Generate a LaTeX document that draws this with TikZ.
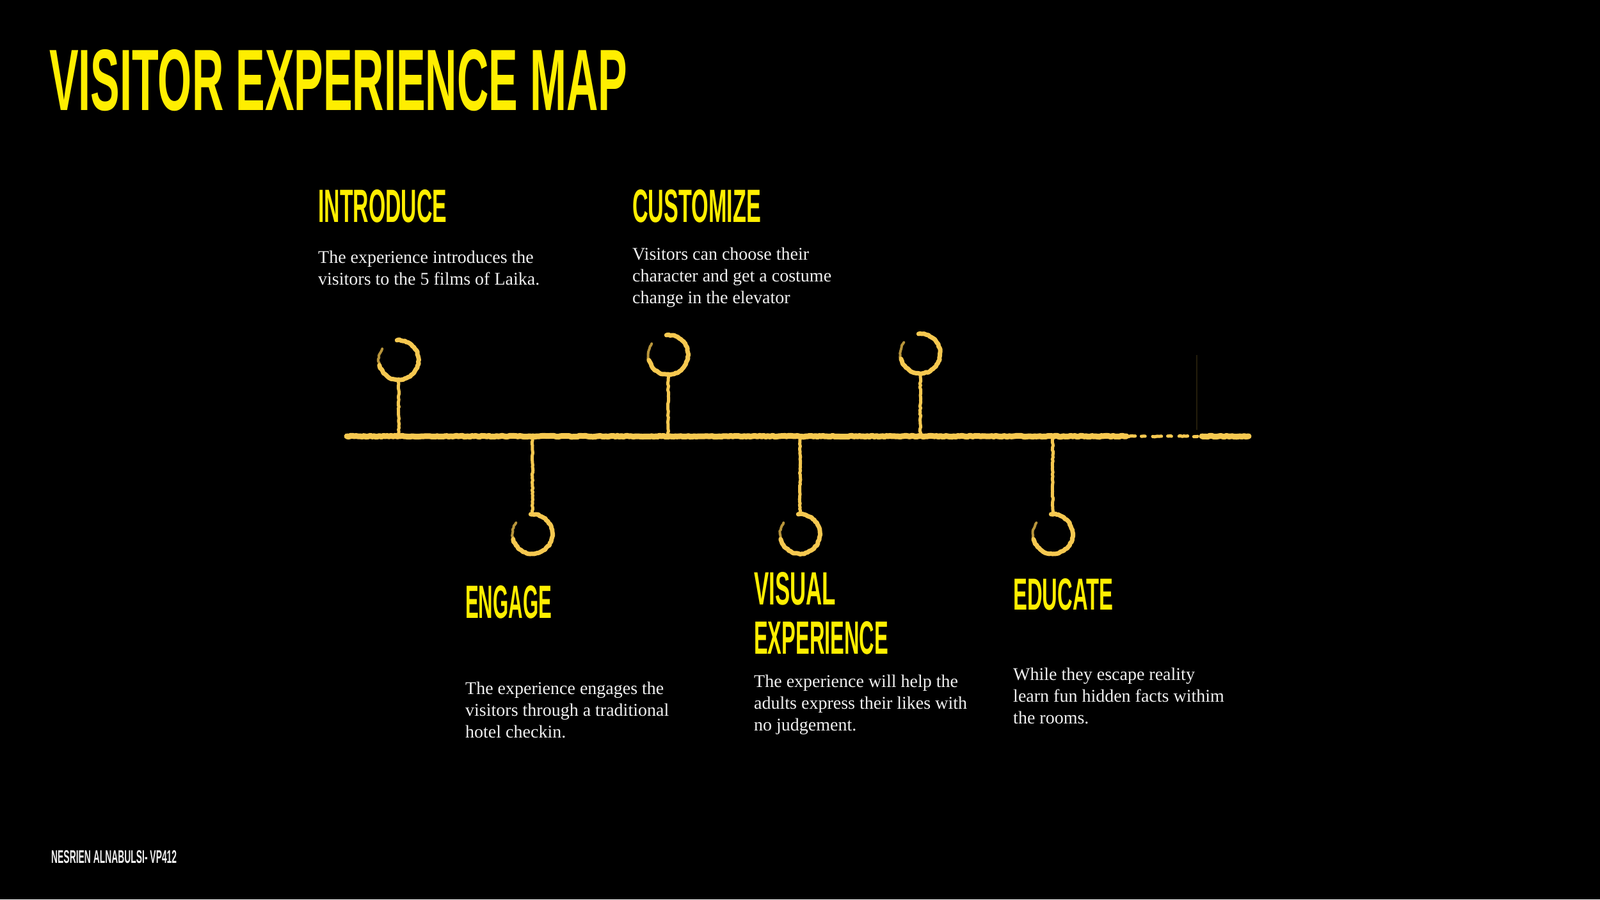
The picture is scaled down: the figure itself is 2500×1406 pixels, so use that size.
\documentclass[tikz,border=0pt]{standalone}
\usepackage{fontspec}
\setmainfont{Liberation Serif}
\setsansfont{Liberation Sans}
\usetikzlibrary{decorations.pathmorphing}
\definecolor{titleyellow}{RGB}{255,238,0}
\definecolor{chalk}{RGB}{246,200,80}
\definecolor{bodytext}{RGB}{240,240,240}
\tikzset{
 heading/.style={inner sep=0pt, anchor=north west, text=titleyellow, font=\sffamily\bfseries},
 bodybox/.style={inner sep=0pt, anchor=base west, align=left, text=bodytext, font=\fontsize{28}{34}\selectfont},
 chalkline/.style={draw=chalk, line cap=round, line join=round, decorate, decoration={random steps, segment length=3pt, amplitude=0.8pt}},
 pinring/.style={circle, minimum size=62pt, inner sep=0pt},
 ringmain/.style={chalkline, line width=7pt},
 ringfade/.style={chalkline, line width=4pt, opacity=0.75},
 stem/.style={chalkline, line width=5pt},
}
\newcommand{\hd}[3]{\resizebox{#1pt}{#2pt}{#3}}
\begin{document}
\begin{tikzpicture}[x=1pt,y=1pt]
\fill[black] (0,0) rectangle (2500,-1406);
\useasboundingbox (0,0) rectangle (2500,-1406);

% title and headings
\node[heading] (title) at (77,-77) {\hd{903}{95}{VISITOR EXPERIENCE MAP}};
\node[heading] (h1) at (497,-296) {\hd{201}{51}{INTRODUCE}};
\node[heading] (h2) at (988,-296) {\hd{201}{51}{CUSTOMIZE}};
\node[heading] (h3) at (727,-915) {\hd{135}{51}{ENGAGE}};
\node[heading] (h4a) at (1178,-894) {\hd{128}{51}{VISUAL}};
\node[heading] (h4b) at (1178,-971) {\hd{210}{51}{EXPERIENCE}};
\node[heading] (h5) at (1583,-904) {\hd{156}{49}{EDUCATE}};

% body texts (anchored at the baseline of the last line)
\node[bodybox] (b1) at (497,-445) {The experience introduces the\\visitors to the 5 films of Laika.};
\node[bodybox] (b2) at (988,-474) {Visitors can choose their\\character and get a costume\\change in the elevator};
\node[bodybox] (b3) at (727,-1153) {The experience engages the\\visitors through a traditional\\hotel checkin.};
\node[bodybox] (b4) at (1178,-1142) {The experience will help the\\adults express their likes with\\no judgement.};
\node[bodybox] (b5) at (1583,-1131) {While they escape reality\\learn fun hidden facts withim\\the rooms.};

% footer
\node[inner sep=0pt, anchor=north west, text=bodytext, font=\sffamily\bfseries] (foot) at (80,-1329) {\hd{196}{20}{NESRIEN ALNABULSI- VP412}};

% timeline
\coordinate (L) at (542,-682);
\coordinate (gapA) at (1760,-682);
\coordinate (gapB) at (1878,-682);
\coordinate (R) at (1951,-682);
\draw[chalkline, line width=9pt] (L) -- (gapA);
\draw[chalkline, line width=5pt, dash pattern=on 14pt off 10pt on 6pt off 12pt] (gapA) -- (gapB);
\draw[chalkline, line width=9pt] (gapB) -- (R);

% faint mark
\coordinate (fa) at (1870,-555);
\coordinate (fb) at (1870,-672);
\draw[draw=chalk, opacity=0.15, line width=2pt] (fa) -- (fb);

% top pins
\foreach \n/\x/\y in {p1/623/563, p2/1044/555, p3/1438/553}{
  \node[pinring] (\n) at (\x,-\y) {};
  \coordinate (\n t) at (\x,-682);
  \draw[stem] (\n.south) -- (\n t);
  \draw[ringmain] (\n.95) arc[start angle=95, end angle=-165, radius=31pt];
  \draw[ringfade] (\n.200) arc[start angle=200, end angle=145, radius=31pt];
}

% bottom pins
\foreach \n/\x/\y in {q1/832/835, q2/1250/835, q3/1645/835}{
  \node[pinring] (\n) at (\x,-\y) {};
  \coordinate (\n t) at (\x,-682);
  \draw[stem] (\n t) -- (\n.north);
  \draw[ringmain] (\n.95) arc[start angle=95, end angle=-165, radius=31pt];
  \draw[ringfade] (\n.200) arc[start angle=200, end angle=145, radius=31pt];
}
\end{tikzpicture}
\end{document}
